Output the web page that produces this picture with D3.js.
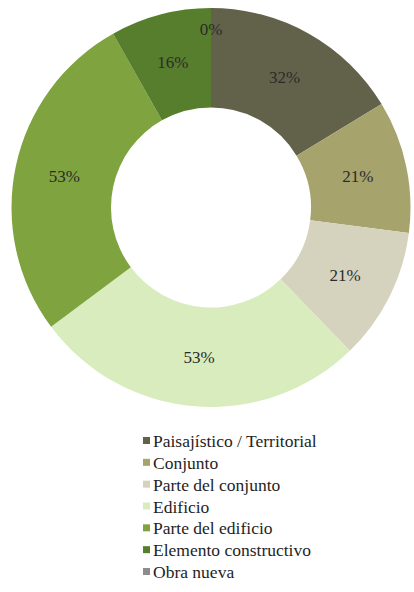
<!DOCTYPE html>
<html>
<head>
<meta charset="utf-8">
<script src="https://cdn.jsdelivr.net/npm/d3@7"></script>
<style>
  html, body { margin: 0; padding: 0; background: #ffffff; }
  svg { display: block; }
  svg text { font-family: "Liberation Serif", "Times New Roman", Times, serif; }
</style>
</head>
<body>
<svg id="chart" width="414" height="592"></svg>
<script>
const categories = ["Paisajístico / Territorial", "Conjunto", "Parte del conjunto", "Edificio", "Parte del edificio", "Elemento constructivo", "Obra nueva"];
const values = [32, 21, 21, 53, 53, 16, 0];
const valueLabels = ["32%", "21%", "21%", "53%", "53%", "16%", "0%"];
const colors = ["#62624b", "#a6a36c", "#d5d3be", "#d9ecbd", "#7fa33f", "#577e2c", "#8c8c8c"];

const svg = d3.select("#chart");
const cx = 211, cy = 207.5, outerR = 199.5, innerR = 100;

const data = categories.map((c, i) => ({ cat: c, value: values[i], label: valueLabels[i], color: colors[i] }));
const pie = d3.pie().sort(null).value(d => d.value);
const arcs = pie(data);
const arc = d3.arc().innerRadius(innerR).outerRadius(outerR);
const labelArc = d3.arc().innerRadius(150).outerRadius(150);
const zeroArc = d3.arc().innerRadius(178).outerRadius(178);

const g = svg.append("g").attr("transform", `translate(${cx},${cy})`);
g.selectAll("path.slice")
  .data(arcs)
  .join("path")
  .attr("class", "slice")
  .attr("d", arc)
  .attr("fill", d => d.data.color);

g.selectAll("text.lbl")
  .data(arcs)
  .join("text")
  .attr("class", "lbl")
  .attr("transform", d => `translate(${(d.data.value === 0 ? zeroArc : labelArc).centroid(d)})`)
  .attr("text-anchor", "middle")
  .attr("dy", "0.35em")
  .attr("font-size", 17)
  .attr("fill", "#2b2b2b")
  .text(d => d.data.label);

const legend = svg.append("g").attr("transform", "translate(143,441)");
const rowY = d3.scalePoint().domain(categories).range([0, 131]);
const items = legend.selectAll("g.item")
  .data(data)
  .join("g")
  .attr("class", "item")
  .attr("transform", d => `translate(0,${rowY(d.cat)})`);
items.append("rect")
  .attr("x", 0).attr("y", -4)
  .attr("width", 7).attr("height", 7)
  .attr("fill", d => d.color);
items.append("text")
  .attr("class", "leg")
  .attr("x", 10)
  .attr("dy", "0.35em")
  .attr("font-size", 17.5)
  .attr("fill", "#1e1e1e")
  .text(d => d.cat);
</script>
</body>
</html>
